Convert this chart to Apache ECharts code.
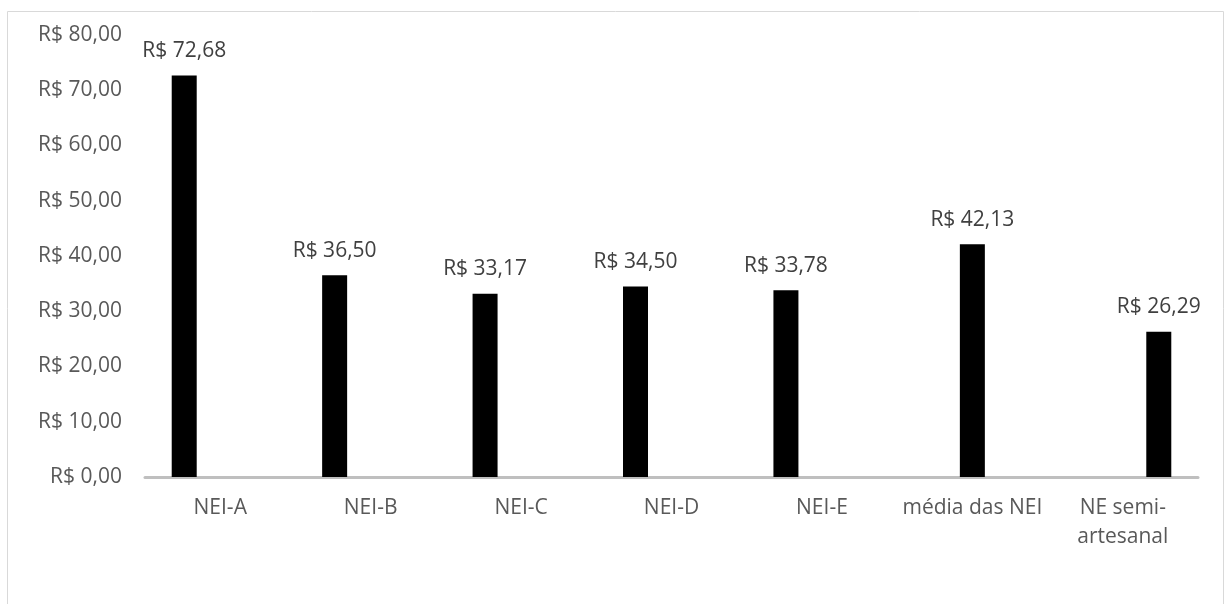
<!DOCTYPE html>
<html>
<head>
<meta charset="utf-8">
<script src="https://cdn.jsdelivr.net/npm/echarts@6/dist/echarts.min.js"></script>
<style>
  html, body { margin: 0; padding: 0; background: #fff; }
  #chart { width: 1226px; height: 604px; }
</style>
</head>
<body>
<div id="chart"></div>
<script>
  // dados do gráfico
  const categorias = ['NEI-A', 'NEI-B', 'NEI-C', 'NEI-D', 'NEI-E', 'média das NEI', 'NE semi-artesanal'];
  const precos = [72.68, 36.50, 33.17, 34.50, 33.78, 42.13, 26.29];
  // em qual das três séries cada barra fica (esquerda, meio, direita)
  const grupo = [0, 0, 0, 0, 0, 1, 2];
  const yTicks = [0, 80, 10]; // min, max, intervalo

  const fmt = v => 'R$ ' + v.toFixed(2).replace('.', ',');

  const chart = echarts.init(document.getElementById('chart'));

  const series = [0, 1, 2].map(s => ({
    type: 'bar',
    data: precos.map((v, i) => grupo[i] === s ? v : '-'),
    barWidth: 25,
    barGap: '44%',
    itemStyle: { color: '#000' },
    label: {
      show: true,
      position: 'top',
      distance: 14,
      color: '#404040',
      fontFamily: 'Open Sans',
      fontSize: 21,
      formatter: p => fmt(p.value)
    }
  }));

  const option = {
    animation: false,
    graphic: [{
      type: 'rect',
      shape: { x: 7.5, y: 11.5, width: 1216, height: 700 },
      style: { fill: 'none', stroke: '#d9d9d9', lineWidth: 1 },
      silent: true
    }],
    grid: { left: 145, right: 28, top: 35, bottom: 127 },
    xAxis: {
      type: 'category',
      data: categorias,
      axisLine: { lineStyle: { color: '#bfbfbf', width: 3 } },
      axisTick: { show: false },
      axisLabel: {
        color: '#595959',
        fontFamily: 'Open Sans',
        fontSize: 21,
        lineHeight: 29,
        margin: 17,
        interval: 0,
        formatter: v => v.replace('semi-', 'semi-\n')
      }
    },
    yAxis: {
      type: 'value',
      min: yTicks[0],
      max: yTicks[1],
      interval: yTicks[2],
      axisLine: { show: false },
      axisTick: { show: false },
      splitLine: { show: false },
      axisLabel: {
        color: '#595959',
        fontFamily: 'Open Sans',
        fontSize: 21,
        margin: 23,
        formatter: v => fmt(v)
      }
    },
    series: series
  };

  chart.setOption(option);
</script>
</body>
</html>
